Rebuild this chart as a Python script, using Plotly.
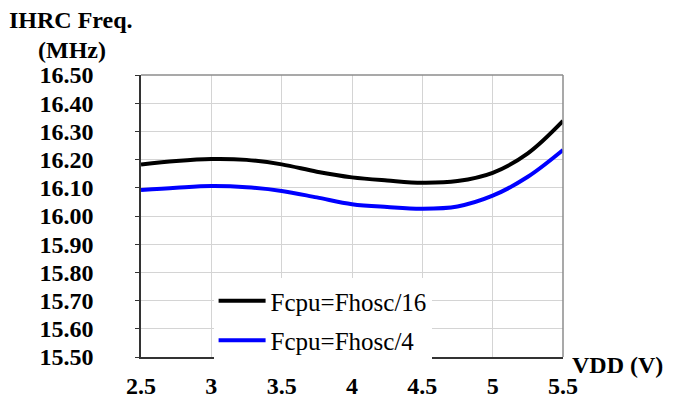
import plotly.graph_objects as go

# 讀圖估計的數據 (VDD vs IHRC 頻率)
vdd = [2.5, 2.75, 3.0, 3.25, 3.5, 3.75, 4.0, 4.25, 4.5, 4.75, 5.0, 5.25, 5.5]
freq_div16 = [16.183, 16.195, 16.202, 16.199, 16.183, 16.157, 16.137, 16.126, 16.118, 16.124, 16.153, 16.222, 16.337]
freq_div4 = [16.092, 16.100, 16.106, 16.102, 16.089, 16.066, 16.042, 16.032, 16.026, 16.034, 16.072, 16.139, 16.234]
names = ["Fcpu=Fhosc/16", "Fcpu=Fhosc/4"]
y_ticks = [15.5, 15.6, 15.7, 15.8, 15.9, 16.0, 16.1, 16.2, 16.3, 16.4, 16.5]

bold = dict(size=24, color="black", weight="bold")

fig = go.Figure()
fig.add_trace(go.Scatter(x=vdd, y=freq_div16, name=names[0], mode="lines",
                         line=dict(color="black", width=4, shape="spline"), legendgroup="a"))
fig.add_trace(go.Scatter(x=vdd, y=freq_div4, name=names[1], mode="lines",
                         line=dict(color="#0000ff", width=4, shape="spline"), legendgroup="b"))

# 頁面 body 有 8px 邊距，邊界往回扣
fig.update_layout(
    width=674, height=414,
    margin=dict(l=133, r=119, t=67, b=65),
    paper_bgcolor="white", plot_bgcolor="white",
    font=dict(family="Liberation Serif", color="black"),
    showlegend=True,
    legend=dict(x=0.172, y=0.28, xanchor="left", yanchor="top",
                bgcolor="white", borderwidth=0, itemwidth=47,
                font=dict(size=25, color="black"),
                tracegroupgap=4, traceorder="grouped"),
)
fig.update_xaxes(range=[2.5, 5.5], dtick=0.5, tick0=2.5,
                 showgrid=True, gridcolor="#d4d4d4", gridwidth=1,
                 showline=True, linecolor="#333", linewidth=1.5,
                 ticks="", ticklabelstandoff=6, tickfont=bold,
                 zeroline=False, automargin=False)
fig.update_yaxes(range=[15.5, 16.5], tickvals=y_ticks, tickformat=".2f",
                 showgrid=True, gridcolor="#d4d4d4", gridwidth=1,
                 showline=True, linecolor="#333", linewidth=1.5,
                 ticks="outside", ticklen=4, tickcolor="#333",
                 ticklabelstandoff=37, tickfont=bold, zeroline=False, automargin=False)

# 上方與右側灰色邊框
fig.add_shape(type="line", xref="paper", yref="paper", x0=0, x1=1, y0=1, y1=1,
              line=dict(color="#8c8c8c", width=1.5))
fig.add_shape(type="line", xref="paper", yref="paper", x0=1, x1=1, y0=0, y1=1,
              line=dict(color="#8c8c8c", width=1.5))

fig.add_annotation(text="IHRC Freq.", xref="paper", yref="paper", x=-0.165, y=1.195,
                   xanchor="center", yanchor="middle", showarrow=False, font=bold)
fig.add_annotation(text="(MHz)", xref="paper", yref="paper", x=-0.163, y=1.089,
                   xanchor="center", yanchor="middle", showarrow=False, font=bold)
fig.add_annotation(text="VDD (V)", xref="paper", yref="paper", x=1.017, y=-0.028,
                   xanchor="left", yanchor="middle", showarrow=False, font=bold)

fig.write_html("out.html")
